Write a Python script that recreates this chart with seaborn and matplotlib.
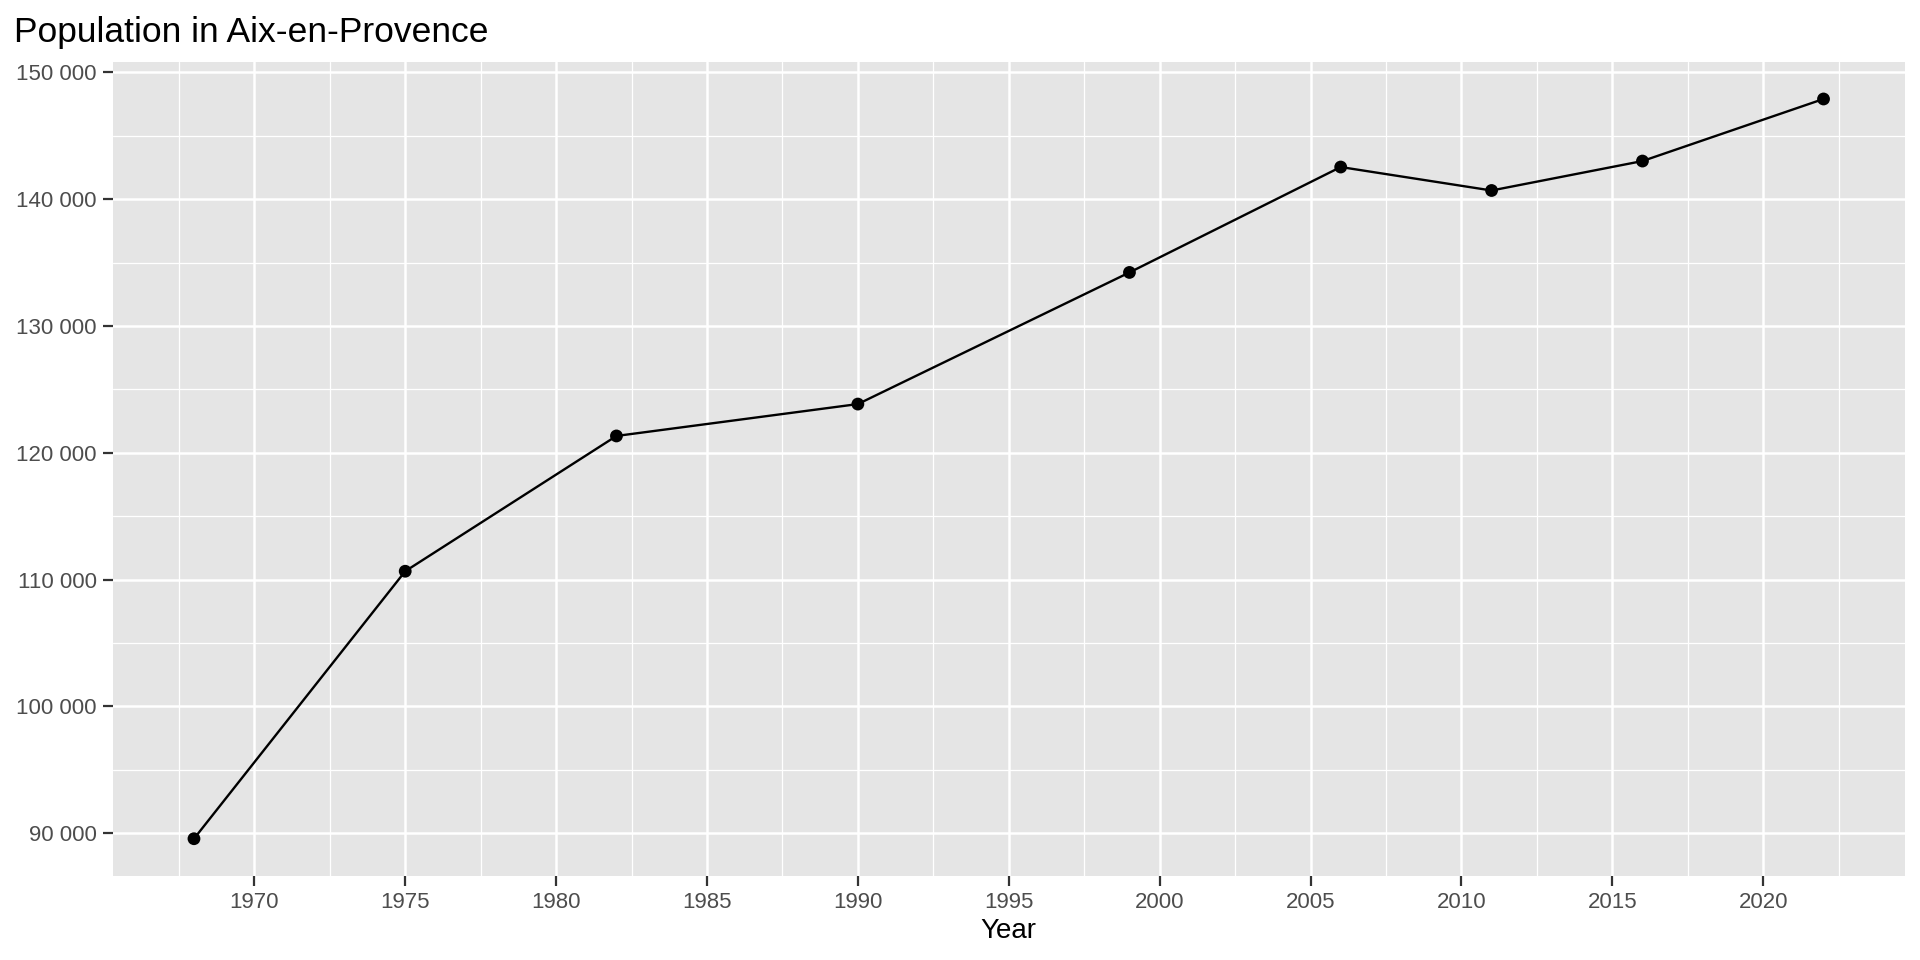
import matplotlib
matplotlib.use("Agg")
import matplotlib.pyplot as plt
import matplotlib.ticker as mticker
import pandas as pd
import seaborn as sns

# population figures
years = [1968, 1975, 1982, 1990, 1999, 2006, 2011, 2016, 2022]
population = [89566, 110659, 121327, 123842, 134222, 142534, 140684, 143006, 147900]

x_ticks = [1970, 1975, 1980, 1985, 1990, 1995, 2000, 2005, 2010, 2015, 2020]
y_ticks = [90000, 100000, 110000, 120000, 130000, 140000, 150000]

df = pd.DataFrame({"Year": years, "Population": population})

sns.set_theme(style="darkgrid", rc={
    "axes.facecolor": "#E5E5E5",
    "grid.color": "white",
})
plt.rcParams["font.family"] = ["Liberation Sans", "DejaVu Sans"]

fig = plt.figure(figsize=(19.2, 9.6), dpi=100)
ax = fig.add_axes([112.5 / 1920, 1 - 875.7 / 960, (1905 - 112.5) / 1920, (875.7 - 62) / 960])

sns.lineplot(data=df, x="Year", y="Population", ax=ax, color="black", linewidth=1.7, zorder=3)
sns.scatterplot(data=df, x="Year", y="Population", ax=ax, color="black", s=85, edgecolor="none", zorder=4)

# ggplot-like 5% expansion
span_x = max(years) - min(years)
span_y = max(population) - min(population)
ax.set_xlim(min(years) - 0.05 * span_x, max(years) + 0.05 * span_x)
ax.set_ylim(min(population) - 0.05 * span_y, max(population) + 0.05 * span_y)

ax.set_xticks(x_ticks)
ax.set_yticks(y_ticks)
ax.xaxis.set_minor_locator(mticker.MultipleLocator(2.5))
ax.yaxis.set_minor_locator(mticker.MultipleLocator(5000))
ax.yaxis.set_major_formatter(mticker.FuncFormatter(lambda v, p: f"{int(v):,}".replace(",", " ")))

ax.grid(which="major", color="white", linewidth=1.8)
ax.grid(which="minor", color="white", linewidth=0.9)
ax.set_axisbelow(True)
for s in ax.spines.values():
    s.set_visible(False)

ax.tick_params(which="major", length=7.5, width=1.6, color="#333333", labelcolor="#4D4D4D",
               labelsize=16, pad=4)
ax.tick_params(which="minor", length=0)
ax.tick_params(axis="x", bottom=True)
ax.tick_params(axis="y", left=True)

ax.set_xlabel("Year", fontsize=20, color="black", labelpad=4)
ax.set_ylabel("")

fig.text(14 / 1920, 1 - 42 / 960, "Population in Aix-en-Provence", fontsize=25.5,
         color="black", ha="left", va="baseline")

fig.savefig("out.png", dpi=100)
